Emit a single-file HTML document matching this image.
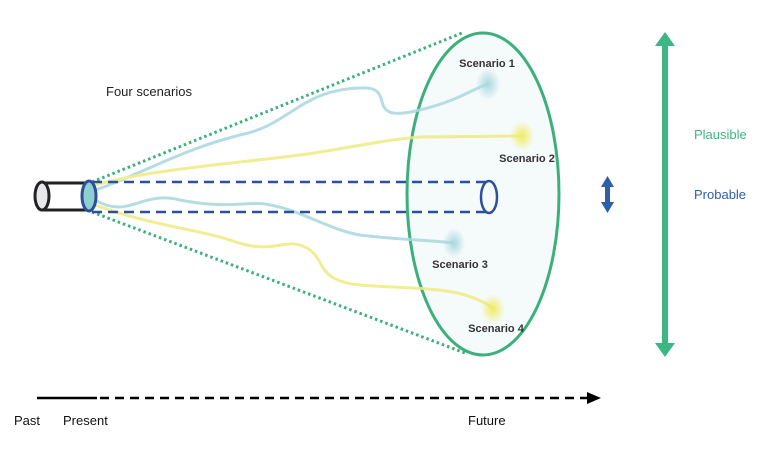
<!DOCTYPE html>
<html><head><style>body{margin:0;background:#fff}svg{display:block}</style></head><body>
<svg width="764" height="451" viewBox="0 0 764 451" xmlns="http://www.w3.org/2000/svg" font-family="Liberation Sans, sans-serif">
<defs>
<radialGradient id="g1"><stop offset="0" stop-color="#a8d8df"/><stop offset="1" stop-color="#a8d8df" stop-opacity="0"/></radialGradient>
<radialGradient id="g2"><stop offset="0" stop-color="#f0ec60"/><stop offset="1" stop-color="#f0ec60" stop-opacity="0"/></radialGradient>
</defs>
<ellipse cx="483" cy="194" rx="76" ry="161" fill="#f5fafb" stroke="#3cb07a" stroke-width="3"/>
<line x1="92" y1="182" x2="462" y2="33" stroke="#3cb07a" stroke-width="3" stroke-dasharray="2.5,3"/>
<line x1="92" y1="212" x2="465" y2="353" stroke="#3cb07a" stroke-width="3" stroke-dasharray="2.5,3"/>
<g fill="none" stroke-width="3" opacity="0.85">
<path d="M95 190 C140 175,180 150,240 135 C290 125,300 90,360 88 C400 85,360 125,420 110 C460 100,470 90,488 84" stroke="#a8d8df"/>
<path d="M95 185 C150 170,220 165,300 155 C340 150,380 140,420 137 L522 136" stroke="#eeea80"/>
<path d="M95 200 C130 220,140 190,180 200 C230 210,250 200,270 205 C300 210,330 230,360 235 C400 240,430 240,454 243" stroke="#a8d8df"/>
<path d="M95 205 C150 225,200 230,230 240 C270 255,280 240,300 245 C330 255,310 280,360 285 C420 290,460 285,493 308" stroke="#eeea80"/>
</g>
<ellipse cx="488" cy="84" rx="12" ry="16" fill="url(#g1)"/>
<ellipse cx="522" cy="136" rx="12" ry="15" fill="url(#g2)"/>
<ellipse cx="454" cy="243" rx="11" ry="15" fill="url(#g1)"/>
<ellipse cx="493" cy="309" rx="12" ry="15" fill="url(#g2)"/>
<line x1="92" y1="182" x2="488" y2="182" stroke="#2d4f9c" stroke-width="2.5" stroke-dasharray="10,6"/>
<line x1="92" y1="212" x2="488" y2="212" stroke="#2d4f9c" stroke-width="2.5" stroke-dasharray="10,6"/>
<ellipse cx="489" cy="197" rx="8" ry="16" fill="none" stroke="#2d4f9c" stroke-width="2.5"/>
<line x1="42" y1="183" x2="89" y2="183" stroke="#222" stroke-width="3"/>
<line x1="42" y1="210" x2="89" y2="210" stroke="#222" stroke-width="3"/>
<ellipse cx="42" cy="196" rx="7" ry="14" fill="#e8e8ea" stroke="#222" stroke-width="3"/>
<ellipse cx="89" cy="196" rx="7" ry="15" fill="#8ecfd0" stroke="#2d4f9c" stroke-width="3"/>
<g font-size="11" font-weight="bold" fill="#333" text-anchor="middle">
<text x="487" y="67">Scenario 1</text>
<text x="527" y="162">Scenario 2</text>
<text x="460" y="268">Scenario 3</text>
<text x="496" y="332">Scenario 4</text>
</g>
<text x="106" y="96" font-size="13" fill="#222">Four scenarios</text>
<rect x="662" y="44" width="6" height="300" fill="#3cb783"/>
<polygon points="665,32 675,46 655,46" fill="#3cb783"/>
<polygon points="665,357 675,343 655,343" fill="#3cb783"/>
<rect x="605" y="184" width="5" height="22" fill="#2d5ea8"/>
<polygon points="607.5,176 614,187 601,187" fill="#2d5ea8"/>
<polygon points="607.5,213 614,202 601,202" fill="#2d5ea8"/>
<text x="694" y="139" font-size="13" fill="#3cb783">Plausible</text>
<text x="694" y="199" font-size="13" fill="#2d5ea8">Probable</text>
<line x1="37" y1="398" x2="97" y2="398" stroke="#000" stroke-width="2.5"/>
<line x1="100" y1="398" x2="590" y2="398" stroke="#000" stroke-width="2.5" stroke-dasharray="9,6"/>
<polygon points="601,398 587,392 587,404" fill="#000"/>
<g font-size="13" fill="#111">
<text x="14" y="425">Past</text>
<text x="63" y="425">Present</text>
<text x="468" y="425">Future</text>
</g>
</svg>
</body></html>
